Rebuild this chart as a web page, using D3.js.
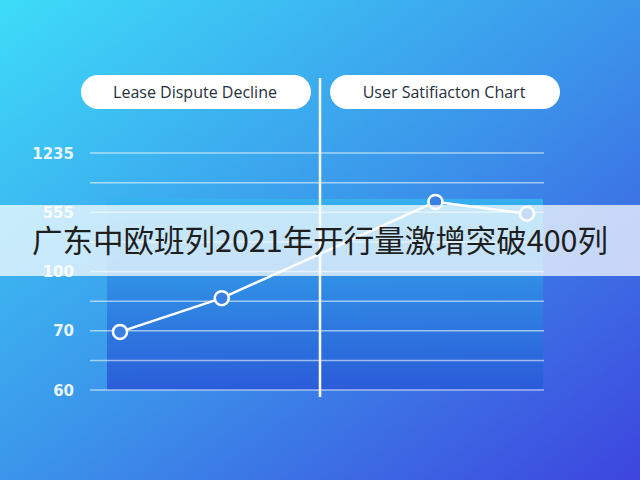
<!DOCTYPE html>
<html>
<head>
  <meta charset='utf-8'>
  <script src="https://d3js.org/d3.v7.min.js"></script>
  <style>
    body { margin: 0; overflow: hidden; }
  </style>
</head>
<body>
  <div id="container"></div>

  <script>
  const width = 640, height = 480;

  // data
  const tickLevels = [0, 2, 4, 6, 8];
  const tickLabels = ["60", "70", "100", "555", "1235"];
  const gridLevels = [0, 1, 2, 3, 4, 5, 6, 7, 8];
  const xValues = [0, 1, 3.1, 4];
  const yValues = [1.96, 3.1, 6.35, 5.95];
  const pillTitles = ["Lease Dispute Decline", "User Satifiacton Chart"];
  const banner = "广东中欧班列2021年开行量激增突破400列";

  const svg = d3.select("#container").append("svg")
    .attr("width", width)
    .attr("height", height)

  const defs = svg.append("defs")
  const bg = defs.append("linearGradient").attr("id", "bg")
    .attr("x1", 0).attr("y1", 0).attr("x2", 1).attr("y2", 1)
  bg.append("stop").attr("offset", "0%").attr("stop-color", "#3ddcf8")
  bg.append("stop").attr("offset", "50%").attr("stop-color", "#3b95ea")
  bg.append("stop").attr("offset", "100%").attr("stop-color", "#3d45de")

  const inner = defs.append("linearGradient").attr("id", "inner")
    .attr("x1", 0).attr("y1", 0).attr("x2", 0).attr("y2", 1)
  inner.append("stop").attr("offset", "0%").attr("stop-color", "#34b4ee").attr("stop-opacity", 0.9)
  inner.append("stop").attr("offset", "100%").attr("stop-color", "#2a5ad8").attr("stop-opacity", 0.95)

  svg.append("rect")
    .attr("width", width).attr("height", height)
    .attr("fill", "url(#bg)")

  const y = d3.scaleLinear().domain([0, 8]).range([390, 153])
  const x = d3.scaleLinear().domain([0, 4]).range([120, 527])

  // inner panel
  svg.append("rect")
    .attr("x", 107).attr("y", y(6.45))
    .attr("width", 436).attr("height", y(0) - y(6.45))
    .attr("fill", "url(#inner)")

  // grid
  svg.selectAll(".grid")
    .data(gridLevels)
    .enter()
    .append("line")
    .attr("x1", 90).attr("x2", 544)
    .attr("y1", d => y(d)).attr("y2", d => y(d))
    .attr("stroke", "#ffffff")
    .attr("stroke-opacity", 0.55)
    .attr("stroke-width", 1.5)

  // tick labels
  svg.selectAll(".tick")
    .data(tickLevels)
    .enter()
    .append("text")
    .attr("x", 74)
    .attr("y", d => y(d) + 5.5)
    .attr("text-anchor", "end")
    .attr("fill", "#eaf6ff")
    .attr("font-family", "'DejaVu Sans', sans-serif")
    .attr("font-weight", "bold")
    .attr("font-size", 15)
    .text((d, i) => tickLabels[i])

  // divider
  svg.append("line")
    .attr("x1", 320).attr("x2", 320)
    .attr("y1", 78).attr("y2", 397)
    .attr("stroke", "#ffffff")
    .attr("stroke-width", 2.5)

  // pills
  const pills = svg.selectAll(".pill")
    .data(pillTitles)
    .enter()
    .append("g")
    .attr("transform", (d, i) => `translate(${i ? 330 : 81},75)`)
  pills.append("rect")
    .attr("width", 230).attr("height", 34)
    .attr("rx", 17)
    .attr("fill", "#ffffff")
  pills.append("text")
    .attr("x", 114).attr("y", 22.5)
    .attr("text-anchor", "middle")
    .attr("fill", "#25303e")
    .attr("font-family", "'Open Sans', 'Noto Sans', sans-serif")
    .attr("font-size", 16)
    .text(d => d)

  // line
  const pts = xValues.map((v, i) => [v, yValues[i]])
  svg.append("path")
    .datum(pts)
    .attr("fill", "none")
    .attr("stroke", "#ffffff")
    .attr("stroke-width", 2.5)
    .attr("d", d3.line().x(d => x(d[0])).y(d => y(d[1])))

  svg.selectAll(".pt")
    .data(pts)
    .enter()
    .append("circle")
    .attr("cx", d => x(d[0]))
    .attr("cy", d => y(d[1]))
    .attr("r", 7)
    .attr("fill", "#3a7fe2")
    .attr("stroke", "#ffffff")
    .attr("stroke-width", 2.5)

  // banner
  svg.append("rect")
    .attr("x", 0).attr("y", 205)
    .attr("width", width).attr("height", 71)
    .attr("fill", "#ffffff")
    .attr("fill-opacity", 0.72)

  svg.append("text")
    .attr("x", 320).attr("y", 252)
    .attr("text-anchor", "middle")
    .attr("fill", "#1e1e1e")
    .attr("font-family", "'Noto Sans CJK SC', sans-serif")
    .attr("font-size", 30.5)
    .text(banner)
  </script>
</body>
</html>
